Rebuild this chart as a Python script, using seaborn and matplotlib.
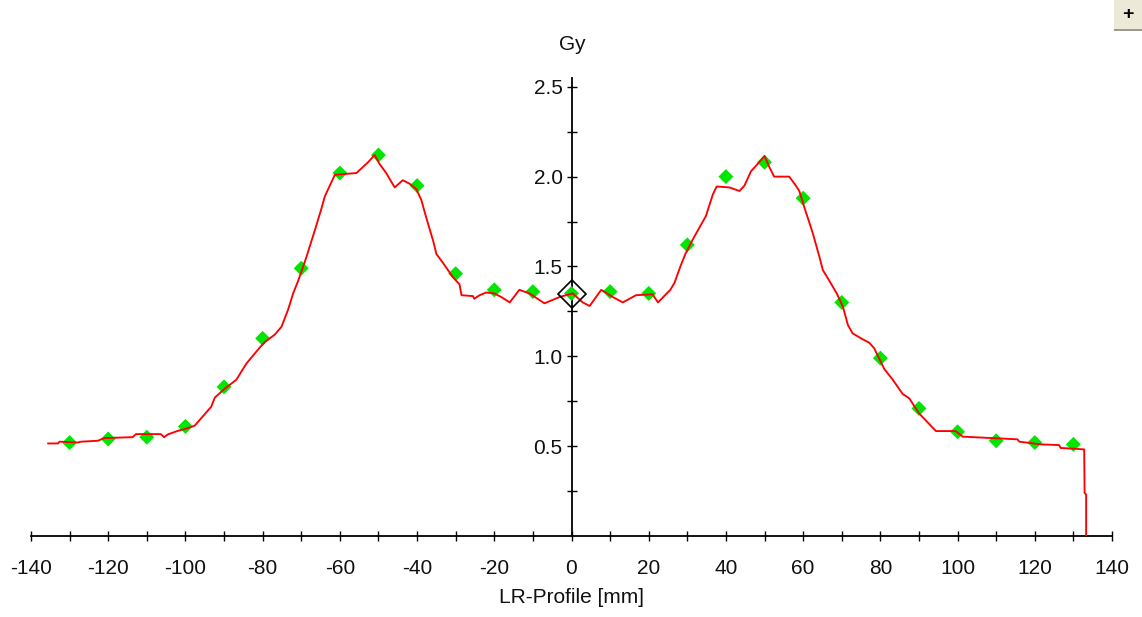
import matplotlib
matplotlib.use("Agg")
import matplotlib.pyplot as plt
import seaborn as sns
import pandas as pd
from matplotlib.patches import Rectangle

# ---- data ----
profile_x = [-135.6, -133.0, -132.6, -128.0, -127.0, -122.7, -121.0, -113.7, -112.8, -106.4,
             -105.5, -104.6, -102.0, -99.4, -97.6, -96.3, -93.3, -92.4, -89.8, -86.8,
             -84.2, -80.7, -79.4, -76.9, -75.1, -73.4, -72.1, -70.8, -68.7, -66.5,
             -64.8, -63.9, -62.6, -61.3, -55.7, -52.7, -51.0, -49.7, -48.0, -45.8,
             -43.7, -41.9, -40.2, -38.9, -37.6, -35.8, -35.0, -33.3, -30.7, -29.0,
             -28.5, -25.5, -25.2, -23.8, -22.1, -20.0, -18.2, -16.0, -13.5, -10.9,
             -7.0, -3.1, 0.3, 2.9, 4.7, 7.7, 10.7, 13.3, 16.7, 21.0,
             22.4, 25.6, 26.7, 28.2, 29.5, 31.4, 34.8, 35.7, 36.6, 37.6,
             40.9, 43.5, 44.8, 46.5, 48.2, 50.0, 51.2, 52.5, 56.4, 58.1,
             59.0, 60.3, 62.5, 64.2, 65.1, 66.8, 68.7, 70.3, 71.6, 72.8,
             75.4, 77.1, 78.4, 81.0, 83.2, 85.8, 87.5, 90.0, 94.4, 99.5,
             101.3, 115.5, 116.0, 121.6, 126.3, 126.7, 132.8, 132.9, 133.3, 133.3]
profile_dose = [0.515, 0.515, 0.525, 0.520, 0.525, 0.530, 0.545, 0.550, 0.567, 0.567,
                0.550, 0.565, 0.585, 0.600, 0.614, 0.646, 0.720, 0.770, 0.820, 0.870,
                0.960, 1.050, 1.080, 1.120, 1.165, 1.260, 1.350, 1.420, 1.550, 1.700,
                1.820, 1.890, 1.950, 2.010, 2.020, 2.080, 2.120, 2.070, 2.020, 1.940,
                1.980, 1.960, 1.930, 1.870, 1.770, 1.640, 1.570, 1.520, 1.440, 1.400,
                1.340, 1.335, 1.320, 1.340, 1.355, 1.350, 1.330, 1.300, 1.370, 1.350,
                1.295, 1.330, 1.350, 1.300, 1.280, 1.370, 1.330, 1.300, 1.340, 1.345,
                1.300, 1.370, 1.410, 1.500, 1.570, 1.650, 1.780, 1.840, 1.900, 1.945,
                1.940, 1.920, 1.950, 2.030, 2.070, 2.115, 2.055, 2.000, 2.000, 1.950,
                1.920, 1.830, 1.685, 1.555, 1.480, 1.420, 1.350, 1.276, 1.174, 1.128,
                1.095, 1.076, 1.045, 0.930, 0.870, 0.790, 0.766, 0.683, 0.584, 0.584,
                0.553, 0.538, 0.525, 0.510, 0.506, 0.490, 0.482, 0.240, 0.230, 0.000]

meas_x = [-130, -120, -110, -100, -90, -80, -70, -60, -50, -40, -30, -20, -10, 0,
          10, 20, 30, 40, 50, 60, 70, 80, 90, 100, 110, 120, 130]
meas_dose = [0.52, 0.54, 0.55, 0.61, 0.83, 1.10, 1.49, 2.02, 2.12, 1.95, 1.46, 1.37, 1.36, 1.35,
             1.36, 1.35, 1.62, 2.00, 2.08, 1.88, 1.30, 0.99, 0.71, 0.58, 0.53, 0.52, 0.51]

ref_x = [0]
ref_dose = [1.345]

x_ticks = [-140, -130, -120, -110, -100, -90, -80, -70, -60, -50, -40, -30, -20, -10, 0,
           10, 20, 30, 40, 50, 60, 70, 80, 90, 100, 110, 120, 130, 140]
x_tick_labels = ["-140", "", "-120", "", "-100", "", "-80", "", "-60", "", "-40", "", "-20", "", "0",
                 "", "20", "", "40", "", "60", "", "80", "", "100", "", "120", "", "140"]
y_ticks = [0.25, 0.5, 0.75, 1.0, 1.25, 1.5, 1.75, 2.0, 2.25, 2.5]
y_tick_labels = ["", "0.5", "", "1.0", "", "1.5", "", "2.0", "", "2.5"]

x_label = "LR-Profile [mm]"
y_label = "Gy"

# ---- styling ----
sns.set_style("ticks")
plt.rcParams["font.family"] = ["Liberation Sans", "DejaVu Sans"]

W, H = 1142, 617
fig = plt.figure(figsize=(W / 100, H / 100), dpi=100)
fig.patch.set_facecolor("white")
ax_left, ax_right, ax_zero, ax_top = 31, 1112, 536, 77.8
ax = fig.add_axes([ax_left / W, (H - ax_zero) / H, (ax_right - ax_left) / W, (ax_zero - ax_top) / H])
ax.set_facecolor("white")

meas_df = pd.DataFrame({"x": meas_x, "dose": meas_dose})
prof_df = pd.DataFrame({"x": profile_x, "dose": profile_dose})

sns.scatterplot(data=meas_df, x="x", y="dose", marker="D", s=58, color="#00e600",
                edgecolor="none", linewidth=0, ax=ax, zorder=2, legend=False)
sns.lineplot(data=prof_df, x="x", y="dose", sort=False, estimator=None, color="#ff0000",
             linewidth=1.35, ax=ax, zorder=3, legend=False)
ax.plot(ref_x, ref_dose, marker="D", markersize=14, markerfacecolor="none",
        markeredgecolor="black", markeredgewidth=1.2, linestyle="none", zorder=4)

ax.set_xlim(-140, 140)
ax.set_ylim(0, 2.55)

for s in ("top", "right"):
    ax.spines[s].set_visible(False)
ax.spines["left"].set_position(("data", 0))
for s in ("left", "bottom"):
    ax.spines[s].set_color("black")
    ax.spines[s].set_linewidth(1.3)
    ax.spines[s].set_zorder(1)

ax.set_xticks(x_ticks)
ax.set_xticklabels(x_tick_labels)
ax.set_yticks(y_ticks)
ax.set_yticklabels(y_tick_labels)
ax.tick_params(axis="both", which="major", direction="inout", length=6.5, width=1.0,
               color="black", labelsize=15, labelcolor="#111111",
               bottom=True, left=True, top=False, right=False)
ax.tick_params(axis="x", pad=13)
ax.tick_params(axis="y", pad=3.2)
ax.grid(False)

ax.set_xlabel(x_label, fontsize=15, color="#111111", va="top")
ax.xaxis.set_label_coords(0.5, (ax_zero - 588) / (ax_zero - ax_top))
ax.set_ylabel(y_label, fontsize=15, color="#111111", rotation=0, ha="center", va="baseline")
ax.yaxis.set_label_coords((572 - ax_left) / (ax_right - ax_left), (ax_zero - 50) / (ax_zero - ax_top))

# small "+" window button at the top right corner
fig.patches.append(Rectangle((1114 / W, 1 - 29 / H), 28 / W, 29 / H, transform=fig.transFigure,
                             facecolor="#ece9d8", edgecolor="none", zorder=5))
fig.patches.append(Rectangle((1114 / W, 1 - 31 / H), 28 / W, 2 / H, transform=fig.transFigure,
                             facecolor="#9a9a90", edgecolor="none", zorder=5))
fig.text(1128 / W, 1 - 14 / H, "+", fontsize=14, fontweight="bold", ha="center", va="center",
         color="black", zorder=6)

fig.savefig("out.png", dpi=100, facecolor="white")
